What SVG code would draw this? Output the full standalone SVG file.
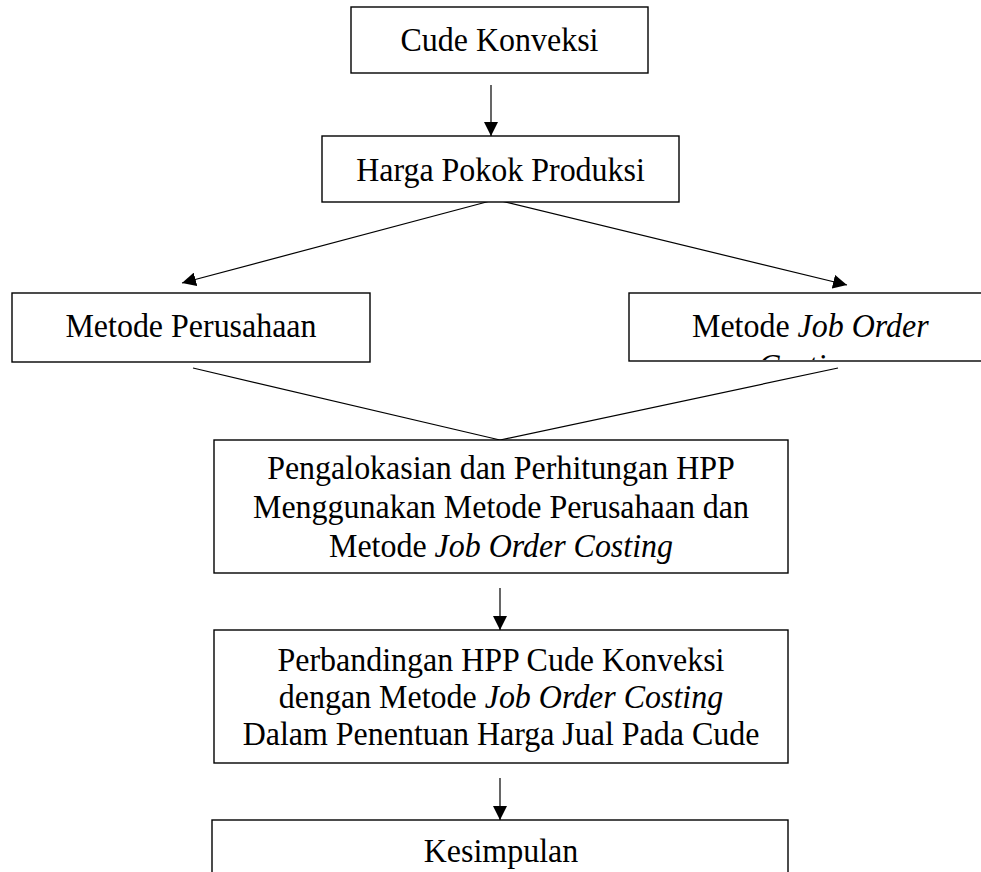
<svg xmlns="http://www.w3.org/2000/svg" width="981" height="872" viewBox="0 0 981 872">
<style>
.box{fill:#fff;stroke:#000;stroke-width:1.4}
.t{font-family:"Liberation Serif","Times New Roman",serif;font-size:34px;fill:#000}
.i{font-style:italic}
.c{stroke:#000;stroke-width:1.2;fill:none}
</style>
<defs>
<marker id="ah" viewBox="0 0 14 14" refX="14" refY="7" markerWidth="14" markerHeight="14" markerUnits="userSpaceOnUse" orient="auto">
<path d="M0,0 L14,7 L0,14 z" fill="#000"/>
</marker>
<clipPath id="clip4"><rect x="-200" y="294" width="500" height="66"/></clipPath>
</defs>
<rect width="981" height="872" fill="#fff"/>
<g id="connectors">
<line class="c" x1="491" y1="85" x2="491" y2="136" marker-end="url(#ah)"/>
<line class="c" x1="494" y1="200" x2="182" y2="283" marker-end="url(#ah)"/>
<line class="c" x1="497" y1="200" x2="847" y2="285" marker-end="url(#ah)"/>
<line class="c" x1="193" y1="368" x2="500" y2="440"/>
<line class="c" x1="838" y1="368" x2="500" y2="440"/>
<line class="c" x1="500" y1="588" x2="500" y2="630" marker-end="url(#ah)"/>
<line class="c" x1="500" y1="778" x2="500" y2="820" marker-end="url(#ah)"/>
</g>
<g id="n1">
<rect class="box" x="351" y="7" width="297" height="66"/>
<text class="t" transform="translate(499.5,0) scale(0.94,1)" x="0" y="51" text-anchor="middle">Cude Konveksi</text>
</g>
<g id="n2">
<rect class="box" x="322" y="136" width="357" height="66"/>
<text class="t" transform="translate(500.5,0) scale(0.94,1)" x="0" y="181" text-anchor="middle">Harga Pokok Produksi</text>
</g>
<g id="n3">
<rect class="box" x="12" y="293" width="358" height="69"/>
<text class="t" transform="translate(191,0) scale(0.94,1)" x="0" y="337" text-anchor="middle">Metode Perusahaan</text>
</g>
<g id="n4">
<rect class="box" x="629" y="293" width="370" height="68"/>
<text class="t" transform="translate(692,0) scale(0.94,1)" x="0" y="337">Metode <tspan class="i">Job Order</tspan></text>
<text class="t i" transform="translate(808,0) scale(0.94,1)" x="0" y="377" text-anchor="middle" clip-path="url(#clip4)">Costing</text>
</g>
<g id="n5">
<rect class="box" x="214" y="440" width="574" height="133"/>
<text class="t" transform="translate(501,0) scale(0.94,1)" x="0" y="479" text-anchor="middle">Pengalokasian dan Perhitungan HPP</text>
<text class="t" transform="translate(501,0) scale(0.94,1)" x="0" y="518" text-anchor="middle">Menggunakan Metode Perusahaan dan</text>
<text class="t" transform="translate(501,0) scale(0.94,1)" x="0" y="557" text-anchor="middle">Metode <tspan class="i">Job Order Costing</tspan></text>
</g>
<g id="n6">
<rect class="box" x="214" y="630" width="574" height="133"/>
<text class="t" transform="translate(501,0) scale(0.94,1)" x="0" y="671" text-anchor="middle">Perbandingan HPP Cude Konveksi</text>
<text class="t" transform="translate(501,0) scale(0.94,1)" x="0" y="708" text-anchor="middle">dengan Metode <tspan class="i">Job Order Costing</tspan></text>
<text class="t" transform="translate(501,0) scale(0.94,1)" x="0" y="745" text-anchor="middle">Dalam Penentuan Harga Jual Pada Cude</text>
</g>
<g id="n7">
<rect class="box" x="212" y="820" width="576" height="70"/>
<text class="t" transform="translate(501,0) scale(0.94,1)" x="0" y="862" text-anchor="middle">Kesimpulan</text>
</g>
</svg>
